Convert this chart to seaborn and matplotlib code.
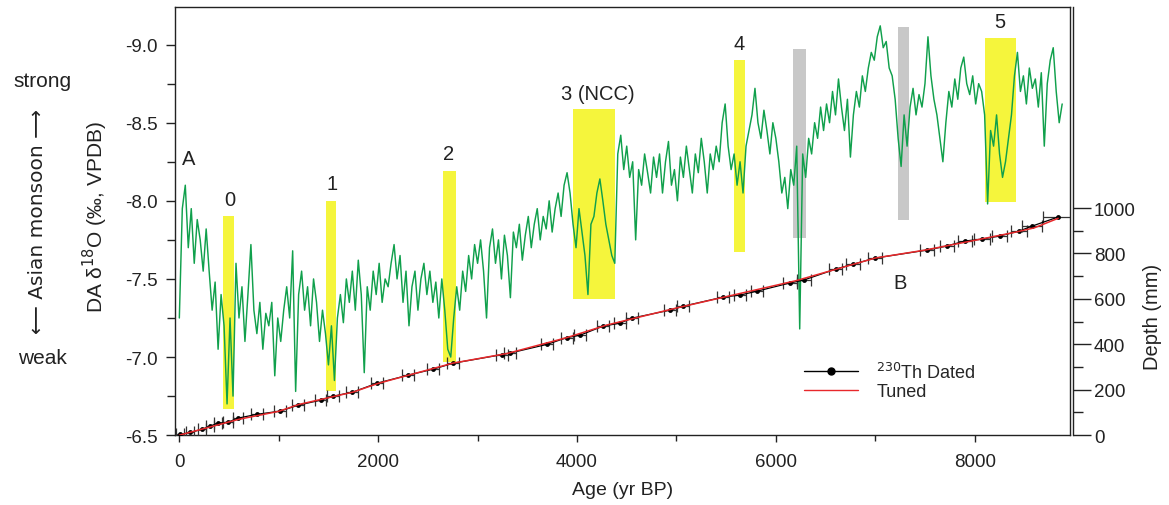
import numpy as np
import pandas as pd
import matplotlib
matplotlib.use("Agg")
import matplotlib.pyplot as plt
from matplotlib.lines import Line2D
from matplotlib.ticker import MultipleLocator, FixedLocator, FuncFormatter
import seaborn as sns

# ---------------- data ----------------
# DA d18O record (permil VPDB), sampled every 30 yr from 0 yr BP
d18o = [
    -7.25, -7.95, -8.10, -7.70, -7.95, -7.60, -7.88, -7.75, -7.55, -7.82,
    -7.55, -7.30, -7.48, -7.05, -7.40, -7.20, -6.70, -7.25, -6.75, -7.60,
    -7.25, -7.45, -7.10, -7.40, -7.72, -7.30, -7.15, -7.35, -7.05, -7.28,
    -7.20, -7.35, -6.88, -7.25, -7.10, -7.30, -7.45, -7.25, -7.68, -6.78,
    -7.40, -7.55, -7.30, -7.45, -7.20, -7.50, -7.35, -7.10, -7.30, -7.15,
    -6.95, -7.20, -6.85, -7.25, -7.40, -7.22, -7.50, -7.35, -7.55, -7.30,
    -7.62, -7.40, -6.90, -7.45, -7.30, -7.55, -7.40, -7.60, -7.35, -7.50,
    -7.45, -7.60, -7.72, -7.50, -7.65, -7.35, -7.55, -7.20, -7.45, -7.55,
    -7.30, -7.50, -7.60, -7.40, -7.55, -7.35, -7.48, -7.25, -7.50, -7.30,
    -7.05, -7.00, -7.25, -7.45, -7.30, -7.55, -7.42, -7.65, -7.50, -7.72,
    -7.60, -7.75, -7.55, -7.25, -7.70, -7.82, -7.60, -7.75, -7.50, -7.78,
    -7.65, -7.38, -7.80, -7.70, -7.85, -7.62, -7.78, -7.90, -7.70, -7.85,
    -7.95, -7.75, -7.90, -7.82, -8.00, -7.80, -7.95, -8.05, -7.90, -8.10,
    -8.18, -8.05, -7.85, -7.70, -7.95, -7.80, -7.65, -7.40, -7.85, -7.90,
    -8.05, -8.14, -8.00, -7.85, -7.75, -7.65, -7.60, -8.30, -8.42, -8.20,
    -8.35, -8.15, -8.25, -7.75, -8.20, -8.10, -8.30, -8.18, -8.05, -8.28,
    -8.15, -8.30, -8.05, -8.25, -8.38, -8.10, -8.20, -8.00, -8.28, -8.15,
    -8.35, -8.20, -8.05, -8.30, -8.18, -8.40, -8.25, -8.05, -8.30, -8.20,
    -8.35, -8.25, -8.50, -8.62, -8.35, -8.20, -8.30, -8.10, -8.25, -8.05,
    -8.35, -8.45, -8.55, -8.72, -8.50, -8.40, -8.58, -8.45, -8.30, -8.50,
    -8.40, -8.25, -8.05, -8.15, -7.95, -8.20, -8.10, -8.35, -7.18, -8.30,
    -8.15, -8.40, -8.30, -8.50, -8.40, -8.60, -8.45, -8.62, -8.50, -8.70,
    -8.55, -8.78, -8.60, -8.45, -8.65, -8.28, -8.55, -8.70, -8.60, -8.80,
    -8.70, -8.85, -8.95, -8.90, -9.05, -9.12, -8.98, -9.02, -8.85, -8.80,
    -8.65, -8.40, -8.22, -8.55, -8.35, -8.60, -8.72, -8.55, -8.68, -8.60,
    -8.75, -9.05, -8.80, -8.65, -8.55, -8.40, -8.25, -8.50, -8.70, -8.60,
    -8.78, -8.65, -8.85, -8.92, -8.75, -8.68, -8.80, -8.62, -8.75, -8.70,
    -8.55, -7.98, -8.45, -8.35, -8.55, -8.30, -8.15, -8.25, -8.40, -8.55,
    -8.80, -8.95, -8.70, -8.80, -8.62, -8.85, -8.72, -8.78, -8.60, -8.82,
    -8.35, -8.75, -8.90, -8.98, -8.70, -8.50, -8.62,
]
AGE_STEP = 30
ages = np.arange(len(d18o)) * AGE_STEP

# 230Th dated points (age yr BP, depth mm, age error)
dated_age = [10, 110, 230, 310, 390, 490, 590, 785, 1015, 1195, 1420, 1550,
             1740, 1990, 2300, 2555, 2755, 3250, 3330, 3700, 3900, 4030, 4260,
             4430, 4550, 4940, 5070, 5470, 5640, 5810, 6140, 6280, 6600, 6780,
             7000, 7520, 7720, 7900, 8070, 8250, 8450, 8580, 8835]
dated_depth = [3, 12, 26, 40, 53, 57, 75, 92, 106, 132, 154, 172,
               189, 229, 264, 291, 317, 355, 362, 400, 430, 440, 480,
               493, 515, 551, 568, 608, 617, 634, 670, 683, 731, 753,
               780, 815, 833, 855, 863, 877, 899, 921, 960]
dated_err = [40, 40, 40, 40, 40, 50, 50, 60, 60, 60, 60, 60,
             60, 60, 60, 60, 60, 60, 60, 60, 60, 60, 60,
             60, 60, 60, 60, 60, 60, 60, 70, 70, 70, 70,
             70, 70, 70, 70, 80, 80, 80, 100, 150]

# tuned age model
tuned_age = [0, 600, 1000, 1200, 1750, 2000, 2750, 3300, 3900, 4300, 5000,
             5600, 6200, 6400, 6800, 7000, 7500, 8000, 8400, 8600, 8840]
tuned_depth = [0, 70, 105, 135, 190, 228, 317, 360, 430, 485, 560,
               620, 680, 705, 755, 780, 815, 858, 893, 913, 955]

# highlighted events
bar_start = [440, 1477, 2653, 3960, 5578, 6171, 7226, 8100]
bar_end = [550, 1578, 2784, 4382, 5688, 6302, 7337, 8412]
bar_low = [-6.67, -6.78, -6.97, -7.37, -7.67, -7.76, -7.88, -7.99]
bar_high = [-7.90, -8.00, -8.19, -8.59, -8.90, -8.97, -9.11, -9.04]
bar_kind = ["event", "event", "event", "event", "event", "other", "other", "event"]

# text labels
label_text = ["A", "0", "1", "2", "3 (NCC)", "4", "5", "B"]
label_age = [90, 503, 1538, 2713, 4210, 5630, 8250, 7245]
label_val = [-8.27, -8.01, -8.11, -8.30, -8.69, -9.01, -9.15, -7.48]

# ---------------- style ----------------
sns.set_theme(style="ticks")
FONT = ["Liberation Sans", "DejaVu Sans"]
plt.rcParams["font.family"] = FONT
plt.rcParams["axes.linewidth"] = 1.0

INK = "#222222"
GREEN = "#10a04c"
YELLOW = "#f5f53c"
GRAY = "#c8c8c8"
RED = "#e8282b"
colors = {"event": YELLOW, "other": GRAY}

fig = plt.figure(figsize=(11.69, 5.06), dpi=100)
ax = fig.add_axes([0.150, 0.138, 0.765, 0.846])

# event bars
bars = pd.DataFrame({"start": bar_start, "end": bar_end, "low": bar_low,
                     "high": bar_high, "kind": bar_kind})
ax.bar(x=(bars["start"] + bars["end"]) / 2, height=bars["high"] - bars["low"],
       bottom=bars["low"], width=bars["end"] - bars["start"],
       color=[colors[k] for k in bars["kind"]], linewidth=0, zorder=1)

# d18O record
rec = pd.DataFrame({"age": ages, "d18o": d18o})
sns.lineplot(data=rec, x="age", y="d18o", ax=ax, color=GREEN, lw=1.05,
             sort=False, zorder=3)

ax.set_xlim(-40, 8955)
ax.set_ylim(-6.5, -9.24)
ax.yaxis.set_major_locator(MultipleLocator(0.5))
ax.yaxis.set_minor_locator(MultipleLocator(0.25))
ax.xaxis.set_major_locator(MultipleLocator(2000))
ax.xaxis.set_minor_locator(MultipleLocator(1000))
ax.yaxis.set_major_formatter(FuncFormatter(lambda v, p: f"{v:.1f}"))
ax.tick_params(axis="y", which="major", direction="out", length=6.5, width=1,
               labelsize=13.5, colors=INK, labelcolor=INK, pad=6)
ax.tick_params(axis="y", which="minor", direction="out", length=5.5, width=1,
               colors=INK)
ax.tick_params(axis="x", which="major", direction="out", length=5, width=1,
               labelsize=13.5, colors=INK, labelcolor=INK, pad=8)
ax.tick_params(axis="x", which="minor", direction="out", length=4, width=1,
               colors=INK)
ax.set_xlabel("Age (yr BP)", fontsize=14, labelpad=8, color=INK)
ax.set_ylabel("")
for s in ax.spines.values():
    s.set_color(INK)
    s.set_visible(True)

for t, a, v in zip(label_text, label_age, label_val):
    ax.text(a, v, t, fontsize=14.5, ha="center", va="center", color=INK,
            zorder=5)

# depth axis
ax2 = ax.twinx()
ax2.set_ylim(0, 1885)
ax2.errorbar(dated_age, dated_depth, xerr=dated_err, fmt="none",
             ecolor="#333333", elinewidth=0.9, capsize=4, capthick=0.9,
             zorder=2)
dated = pd.DataFrame({"age": dated_age, "depth": dated_depth})
sns.lineplot(data=dated, x="age", y="depth", ax=ax2, color="black", lw=0.9,
             marker="o", markersize=3.5, markeredgewidth=0, sort=False, zorder=3)
tuned = pd.DataFrame({"age": tuned_age, "depth": tuned_depth})
sns.lineplot(data=tuned, x="age", y="depth", ax=ax2, color=RED, lw=1.1,
             sort=False, zorder=4)
ax2.set_xlim(-40, 8955)
ax2.yaxis.set_major_locator(FixedLocator([0, 200, 400, 600, 800, 1000]))
ax2.yaxis.set_minor_locator(FixedLocator([100, 300, 500, 700, 900]))
ax2.tick_params(axis="y", which="major", direction="out", length=13, width=1,
                labelsize=13.5, colors=INK, labelcolor=INK, pad=2)
ax2.tick_params(axis="y", which="minor", direction="out", length=7.5, width=1,
                colors=INK)
ax2.spines["right"].set_position(("outward", 2.5))
ax2.spines["right"].set_color(INK)
for k in ["top", "left", "bottom"]:
    ax2.spines[k].set_visible(False)
ax2.set_ylabel("")
ax2.set_xlabel("")

handles = [Line2D([], [], color="black", lw=1, marker="o", markersize=5),
           Line2D([], [], color=RED, lw=1)]
ax2.legend(handles, ["$^{230}$Th Dated", "Tuned"], loc="upper left",
           bbox_to_anchor=(0.685, 0.21), frameon=False, fontsize=13,
           handlelength=3.0, handletextpad=1.0, labelspacing=0.1)

# side labels
fig.text(95 / 1169, 1 - 217 / 506, "DA δ$^{18}$O (‰, VPDB)", rotation=90,
         ha="center", va="center", fontsize=15, color=INK, family=FONT)
fig.text(38 / 1169, 1 - 222 / 506, "⟵ Asian monsoon ⟶", rotation=90,
         ha="center", va="center", fontsize=14.5, color=INK,
         family=["DejaVu Sans"])
fig.text(42 / 1169, 1 - 82 / 506, "strong", ha="center", va="center",
         fontsize=15, color=INK, family=FONT)
fig.text(42 / 1169, 1 - 358 / 506, "weak", ha="center", va="center",
         fontsize=15, color=INK, family=FONT)
fig.text(1152 / 1169, 1 - 317 / 506, "Depth (mm)", rotation=90,
         ha="center", va="center", fontsize=14.5, color=INK, family=FONT)

fig.savefig("out.png", dpi=100)
